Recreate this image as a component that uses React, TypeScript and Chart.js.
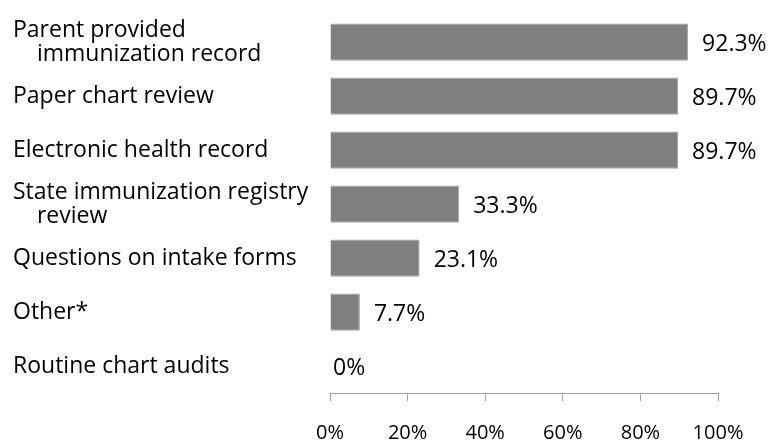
import React, { useEffect, useRef } from "react";
import { Chart, registerables } from "chart.js";

Chart.register(...registerables);

const categories: (string | string[])[] = [
  ["Parent provided", "    immunization record"],
  "Paper chart review",
  "Electronic health record",
  ["State immunization registry", "    review"],
  "Questions on intake forms",
  "Other*",
  "Routine chart audits",
];
const values: number[] = [92.3, 89.7, 89.7, 33.3, 23.1, 7.7, 0];
const xTicks: number[] = [0, 20, 40, 60, 80, 100];

const FONT = "'Open Sans', 'DejaVu Sans', sans-serif";

const valueLabels = {
  id: "valueLabels",
  afterDatasetsDraw(chart: any) {
    const ctx = chart.ctx;
    const meta = chart.getDatasetMeta(0);
    ctx.save();
    ctx.font = `23px ${FONT}`;
    ctx.fillStyle = "#000";
    ctx.textAlign = "left";
    ctx.textBaseline = "middle";
    meta.data.forEach((bar: any, i: number) => {
      const v = values[i];
      const gap = v === 0 ? 3 : 14;
      ctx.fillText(`${v}%`, bar.x + gap, bar.y + 2);
    });
    ctx.restore();
  },
};

export default function App() {
  const ref = useRef<HTMLCanvasElement>(null);
  useEffect(() => {
    if (!ref.current) return;
    const chart = new Chart(ref.current, {
      type: "bar",
      data: {
        labels: categories,
        datasets: [
          {
            data: values,
            backgroundColor: "#808080",
            borderColor: "#a6a6a6",
            borderWidth: 1,
            barPercentage: 0.69,
            categoryPercentage: 1,
          },
        ],
      },
      options: {
        indexAxis: "y",
        animation: false,
        responsive: false,
        layout: { padding: { top: 11, right: 66, left: 13, bottom: 0 } },
        plugins: { legend: { display: false }, tooltip: { enabled: false } },
        scales: {
          x: {
            min: 0,
            max: 100,
            afterBuildTicks: (s: any) => {
              s.ticks = xTicks.map((v) => ({ value: v }));
            },
            ticks: {
              callback: (v: any) => `${v}%`,
              font: { family: FONT, size: 20 },
              color: "#000",
              padding: 20,
              maxRotation: 0,
            },
            grid: {
              display: true,
              drawOnChartArea: false,
              drawTicks: true,
              tickLength: 8,
              color: "#a0a0a0",
            },
            border: { display: true, color: "#a0a0a0" },
            afterFit: (s: any) => {
              s.height = 47;
            },
          },
          y: {
            ticks: {
              crossAlign: "far",
              font: { family: FONT, size: 23, lineHeight: 1.05 },
              color: "#000",
            },
            grid: { display: false },
            border: { display: false },
            afterFit: (s: any) => {
              s.width = 330 - 13;
            },
          },
        },
      },
      plugins: [valueLabels],
    });
    return () => chart.destroy();
  }, []);
  return (
    <div style={{ position: "fixed", left: 0, top: 0, width: 784, height: 440, background: "#fff" }}>
      <canvas ref={ref} width={784} height={440} style={{ display: "block" }} />
    </div>
  );
}
